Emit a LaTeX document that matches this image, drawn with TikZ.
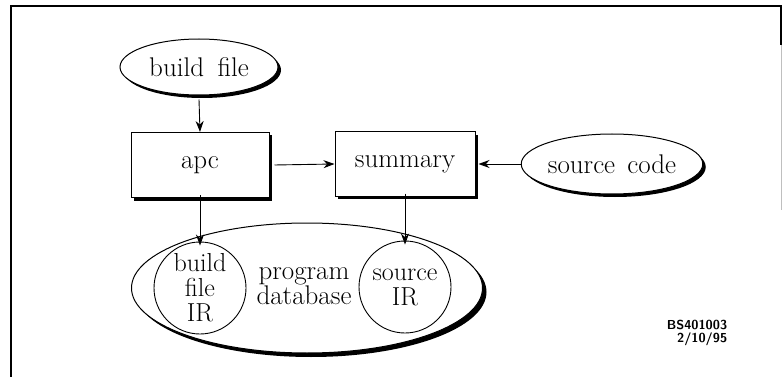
\documentclass[tikz,border=0pt]{standalone}
\usetikzlibrary{shapes.geometric,shadows,arrows.meta}
\begin{document}
\begin{tikzpicture}[x=1pt,y=-1pt,
  lbl/.style={font=\fontsize{27}{29}\selectfont},
  shade3/.style={drop shadow={shadow xshift=3pt,shadow yshift=-3pt,fill=black,opacity=1}},
  oval/.style={ellipse,draw,line width=1pt,fill=white,inner sep=0pt,lbl,shade3},
  procbox/.style={rectangle,draw,line width=1pt,fill=white,inner sep=0pt,lbl,shade3},
  irball/.style={circle,draw,line width=0.9pt,fill=white,inner sep=0pt,minimum size=92pt,align=center,
    font=\fontsize{26}{25}\selectfont},
  flow/.style={line width=0.9pt,-{Stealth[length=11pt,width=8pt]}}]
  \useasboundingbox (0,0) rectangle (782,377);

  % page frame
  \draw[line width=1.2pt] (11,377) -- (11,6) -- (781,6) -- (781,45);
  \draw[black!25,line width=0.6pt] (781,45) -- (781,210);

  % inputs and tools
  \node[oval,minimum width=158pt,minimum height=56pt] (bf) at (199,67) {build\hspace{0.5em}file};
  \node[procbox,minimum width=138pt,minimum height=65pt] (apc) at (200,165) {apc};
  \node[procbox,minimum width=140pt,minimum height=64pt] (sum) at (405,164) {summary};
  \node[oval,minimum width=162pt,minimum height=60pt] (src) at (612,164) {source\hspace{0.45em}code};

  % program database with its two IR stores
  \node[ellipse,draw,line width=1pt,fill=white,minimum width=351pt,minimum height=130pt,
    drop shadow={shadow xshift=4pt,shadow yshift=-4pt,fill=black,opacity=1}] (db) at (307,288) {};
  \node[irball] (bfir) at (200,288) {build\\file\\IR};
  \node[irball] (sir) at (405,287) {source\\IR};
  \node[align=center,font=\fontsize{27}{23}\selectfont] (dbl) at (304,286) {program\\database};

  % data flow
  \draw[flow] (bf.south) ++(0,4) -- (apc.north);
  \draw[flow] ([xshift=5pt]apc.east) -- (sum.west);
  \draw[flow] (src.west) -- ([xshift=3pt]sum.east);
  \draw[flow] ([yshift=3pt]apc.south) -- ([yshift=-4pt]bfir.north);
  \draw[flow] ([yshift=3pt]sum.south) -- ([yshift=-4pt]sir.north);

  % drawing tag
  \node[align=right,font=\sffamily\bfseries\fontsize{13}{13}\selectfont,inner sep=0pt] (tag) at (697,333) {BS401003\\2/10/95};
\end{tikzpicture}
\end{document}
